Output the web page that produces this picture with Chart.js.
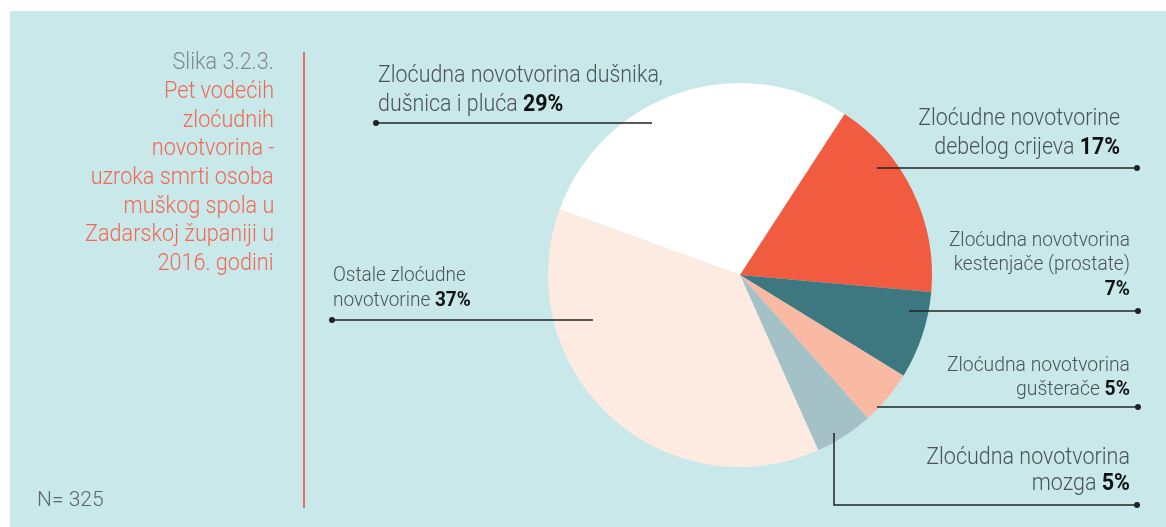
<!DOCTYPE html>
<html>
<head>
<meta charset="utf-8">
<script src="https://cdn.jsdelivr.net/npm/chart.js"></script>
<style>
  html, body { margin: 0; padding: 0; background: #ffffff; }
  body { width: 1166px; height: 527px; position: relative; overflow: hidden; }
  #bg { position: absolute; left: 10px; top: 11px; right: 0; bottom: 0; background: #c9e8ea; }
  #wrap { position: absolute; left: 0; top: 0; width: 1166px; height: 527px; }
  .t { position: absolute; white-space: nowrap; font-family: Roboto, "Liberation Sans", sans-serif; font-weight: 300; color: #4a5355; }
  .t b { color: #111; font-weight: 700; }
  #vline { position: absolute; left: 303px; top: 52px; width: 2px; height: 456px; background: #ef6a55; }
</style>
</head>
<body>
<div id="bg"></div>
<div id="vline"></div>
<div id="wrap"><canvas id="c" width="1166" height="527"></canvas></div>
<script>
// ---- data ----
const categories = [
  'Zloćudna novotvorina dušnika, dušnica i pluća',
  'Zloćudne novotvorine debelog crijeva',
  'Zloćudna novotvorina kestenjače (prostate)',
  'Zloćudna novotvorina gušterače',
  'Zloćudna novotvorina mozga',
  'Ostale zloćudne novotvorine'
];
const deathCounts = [93, 56, 24, 15, 16, 121];
const percentLabels = ['29%', '17%', '7%', '5%', '5%', '37%'];
const labelLines = [
  ['Zloćudna novotvorina dušnika,', 'dušnica i pluća'],
  ['Zloćudne novotvorine', 'debelog crijeva'],
  ['Zloćudna novotvorina', 'kestenjače (prostate)', ''],
  ['Zloćudna novotvorina', 'gušterače'],
  ['Zloćudna novotvorina', 'mozga'],
  ['Ostale zloćudne', 'novotvorine']
];
const sliceColors = ['#ffffff', '#f15c40', '#3d7881', '#f9b9a2', '#a3c1c6', '#fdebe1'];
const titleLines = ['Slika 3.2.3.', 'Pet vodećih', 'zloćudnih', 'novotvorina -', 'uzroka smrti osoba', 'muškog spola u', 'Zadarskoj županiji u', '2016. godini'];
const sampleNote = 'N= 325';

// ---- text helpers ----
function addText(lines, x, baseline, align, size, lh, sx, color, pctIndex) {
  const d = document.createElement('div');
  d.className = 't';
  d.style.fontSize = size + 'px';
  d.style.lineHeight = lh + 'px';
  d.style.textAlign = align;
  if (color) d.style.color = color;
  const top = baseline - ((lh - 1.172 * size) / 2 + 0.928 * size);
  d.style.top = top + 'px';
  if (align === 'right') { d.style.right = (1166 - x) + 'px'; d.style.transformOrigin = 'right center'; }
  else { d.style.left = x + 'px'; d.style.transformOrigin = 'left center'; }
  d.style.transform = 'scaleX(' + sx + ')';
  d.innerHTML = lines.map((l, i) => {
    let s = l;
    if (pctIndex !== undefined && i === lines.length - 1) s = (l ? l + ' ' : '') + '<b>' + percentLabels[pctIndex] + '</b>';
    return s;
  }).join('<br>');
  document.body.appendChild(d);
  return d;
}

// title
titleLines.forEach((l, i) => {
  addText([l], 274, 70 + i * 28.7, 'right', 23, 28, 0.94, i === 0 ? '#7d8a8c' : '#ef6a55');
});
addText([sampleNote], 37, 506, 'left', 21, 24, 1, '#5d6769');

addText(labelLines[0], 378, 82, 'left', 23, 29, 0.93, null, 0);
addText(labelLines[1], 1120, 126.5, 'right', 23, 28.5, 0.93, null, 1);
addText(labelLines[2], 1130, 246, 'right', 21, 24.5, 0.91, null, 2);
addText(labelLines[3], 1130, 371, 'right', 21, 24, 0.92, null, 3);
addText(labelLines[4], 1130, 465, 'right', 23, 26.5, 0.935, null, 4);
addText(labelLines[5], 333, 281.5, 'left', 20, 25, 0.95, null, 5);

// ---- leader lines (annotations) ----
const leaders = [
  {pts: [[652,123],[376,123]]},
  {pts: [[877,168],[1137,168]]},
  {pts: [[909,311],[1138,311]]},
  {pts: [[877,407],[1138,407]]},
  {pts: [[834,433],[834,505],[1137,505]]},
  {pts: [[593,320],[332,320]]}
];
const leaderPlugin = {
  id: 'leaders',
  afterDraw(chart) {
    const ctx = chart.ctx;
    ctx.save();
    ctx.strokeStyle = '#1e2324';
    ctx.fillStyle = '#1e2324';
    ctx.lineWidth = 1.5;
    leaders.forEach(l => {
      ctx.beginPath();
      l.pts.forEach((p, i) => i ? ctx.lineTo(p[0], p[1]) : ctx.moveTo(p[0], p[1]));
      ctx.stroke();
      const d = l.pts[l.pts.length - 1];
      ctx.beginPath();
      ctx.arc(d[0], d[1], 3, 0, Math.PI * 2);
      ctx.fill();
    });
    ctx.restore();
  }
};

new Chart(document.getElementById('c'), {
  type: 'pie',
  data: {
    labels: categories,
    datasets: [{
      data: deathCounts,
      backgroundColor: sliceColors,
      borderWidth: 0,
      hoverOffset: 0
    }]
  },
  options: {
    responsive: false,
    animation: false,
    rotation: 290,
    layout: { padding: { left: 548, right: 234, top: 83, bottom: 60 } },
    plugins: { legend: { display: false }, tooltip: { enabled: false } }
  },
  plugins: [leaderPlugin]
});
</script>
</body>
</html>
